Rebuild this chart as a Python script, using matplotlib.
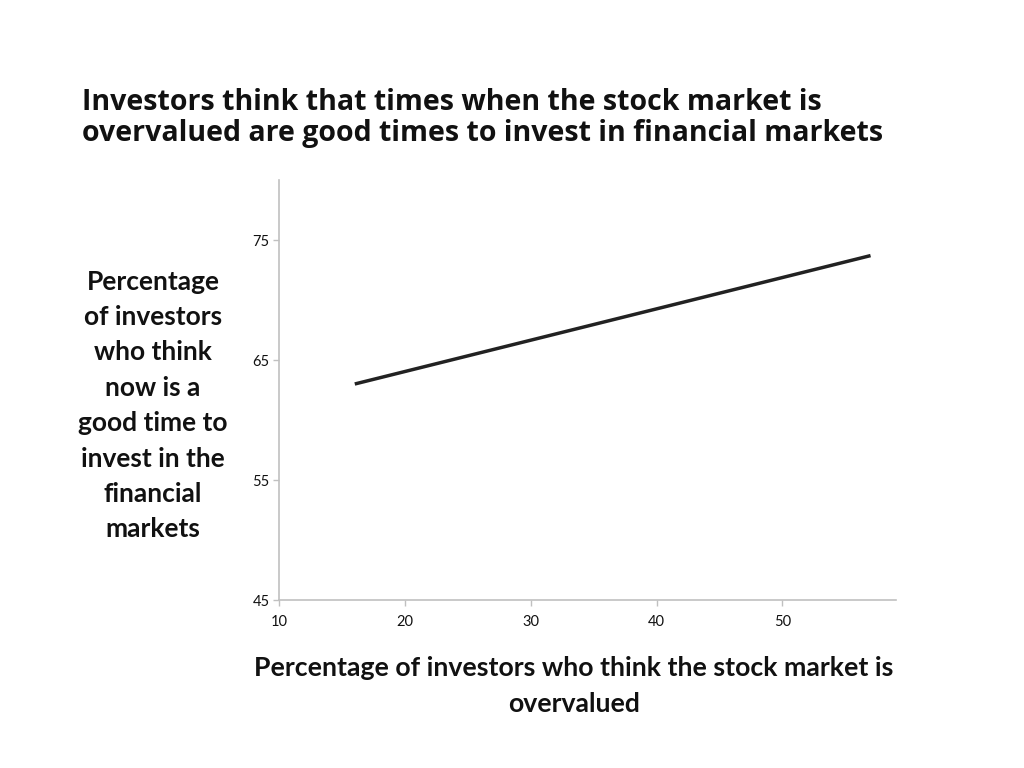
import matplotlib
matplotlib.use("Agg")
import matplotlib.pyplot as plt

# Data
overvalued_pct = [16, 57]
good_time_pct = [63.0, 73.7]
x_ticks = [10, 20, 30, 40, 50]
y_ticks = [45, 55, 65, 75]

title = "Investors think that times when the stock market is\novervalued are good times to invest in financial markets"
xlabel = "Percentage of investors who think the stock market is\novervalued"
ylabel = "Percentage\nof investors\nwho think\nnow is a\ngood time to\ninvest in the\nfinancial\nmarkets"

fig = plt.figure(figsize=(10.24, 7.68), dpi=100)
ax = fig.add_axes([279.3/1024, 1-600/768, (895.7-279.3)/1024, (600-180)/768])

ax.plot(overvalued_pct, good_time_pct, color="#222222", linewidth=2.5, solid_capstyle="butt")

ax.set_xlim(10, 59)
ax.set_ylim(45, 80)
ax.set_xticks(x_ticks)
ax.set_yticks(y_ticks)
for s in ["top", "right"]:
    ax.spines[s].set_visible(False)
for s in ["left", "bottom"]:
    ax.spines[s].set_color("#c0c0c0")
    ax.spines[s].set_linewidth(1.2)
ax.tick_params(axis="both", colors="#c0c0c0", labelcolor="#111111", length=4.5, width=1, labelsize=10.5)
ax.tick_params(axis="x", pad=6.5)
ax.tick_params(axis="y", pad=2.5)
for lab in ax.get_xticklabels() + ax.get_yticklabels():
    lab.set_fontfamily("Lato")

fig.text(82/1024, 1-88/768, title, ha="left", va="top", fontsize=20.5,
         fontweight="bold", family="Open Sans", linespacing=1.07, color="#111111")
fig.text(574/1024, 1-686/768, xlabel, ha="center", va="center", fontsize=19.2,
         fontweight="bold", family="Lato", linespacing=1.58, color="#111111")
fig.text(153/1024, 1-405.5/768, ylabel, ha="center", va="center", fontsize=19,
         fontweight="bold", family="Lato", linespacing=1.57, color="#111111")

fig.savefig("out.png", dpi=100, facecolor="white")
